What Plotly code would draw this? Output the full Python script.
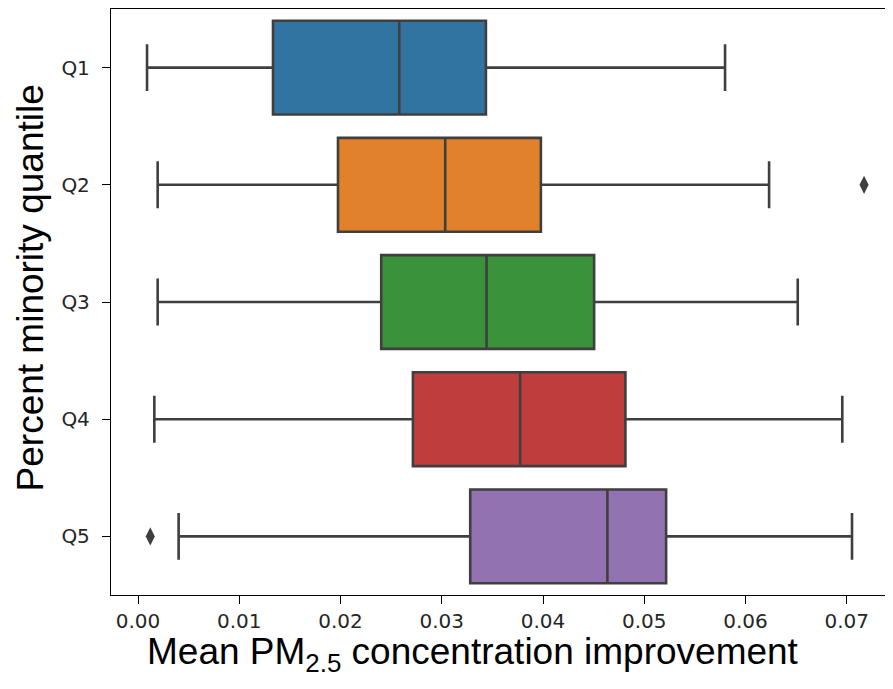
import plotly.graph_objects as go

categories = ["Q1", "Q2", "Q3", "Q4", "Q5"]
lower_fence = [0.00089, 0.00194, 0.00194, 0.00161, 0.00401]
q1_vals = [0.01333, 0.01975, 0.02402, 0.02715, 0.03281]
medians = [0.02580, 0.03034, 0.03442, 0.03774, 0.04636]
q3_vals = [0.03436, 0.03979, 0.04505, 0.04814, 0.05216]
upper_fence = [0.05798, 0.06233, 0.06516, 0.06956, 0.07052]
outlier_cats = ["Q2", "Q5"]
outlier_vals = [0.07171, 0.00121]
colors = ["#3274a1", "#e1812c", "#3a923a", "#c03d3e", "#9372b2"]
xticks = [0.00, 0.01, 0.02, 0.03, 0.04, 0.05, 0.06, 0.07]
x_title = "Mean PM<sub>2.5</sub> concentration improvement"
y_title = "Percent minority quantile"

fig = go.Figure()
for i, c in enumerate(categories):
    fig.add_trace(go.Box(
        y=[c], orientation="h",
        q1=[q1_vals[i]], median=[medians[i]], q3=[q3_vals[i]],
        lowerfence=[lower_fence[i]], upperfence=[upper_fence[i]],
        fillcolor=colors[i], line=dict(color="#3f3f3f", width=2.6),
        width=0.8, whiskerwidth=0.5, boxpoints=False, showlegend=False,
        hoverinfo="x+y",
    ))

fig.add_trace(go.Scatter(
    x=outlier_vals, y=outlier_cats, mode="markers",
    marker=dict(symbol="diamond-tall", size=13, color="#3f3f3f"),
    showlegend=False,
))

title_font = dict(family="Liberation Sans, Arial", size=37, color="black")
fig.update_layout(
    width=885, height=681,
    margin=dict(l=103, r=1, t=1, b=94),
    plot_bgcolor="white", paper_bgcolor="white",
    boxmode="overlay",
    annotations=[
        dict(text=x_title, xref="paper", yref="paper", x=0.463, y=0,
             xanchor="center", yanchor="top", yshift=-34, showarrow=False,
             font=title_font),
        dict(text=y_title, xref="paper", yref="paper", x=0, y=0.524,
             xanchor="right", yanchor="middle", xshift=-58, textangle=-90,
             showarrow=False, font=title_font),
    ],
)
fig.update_xaxes(
    range=[-0.00267, 0.07447],
    tickvals=xticks, ticktext=[f"{v:.2f}" for v in xticks],
    ticks="outside", ticklen=8, tickwidth=1.3, tickcolor="black",
    tickfont=dict(family="DejaVu Sans", size=20, color="#262626"),
    showline=True, linecolor="black", linewidth=1.3, mirror=True,
    showgrid=False, zeroline=False,
)
fig.update_yaxes(
    type="category", categoryorder="array", categoryarray=categories,
    range=[4.5, -0.5],
    ticks="outside", ticklen=8, tickwidth=1.3, tickcolor="black",
    tickfont=dict(family="DejaVu Sans", size=20, color="#262626"),
    ticklabelstandoff=8,
    showline=True, linecolor="black", linewidth=1.3, mirror=True,
    showgrid=False, zeroline=False,
)

fig.write_html("out.html")
